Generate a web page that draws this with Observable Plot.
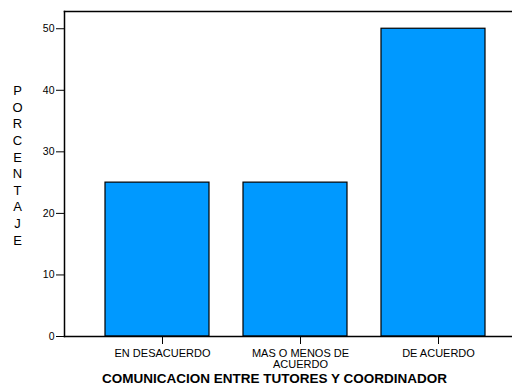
<!DOCTYPE html>
<html>
<head>
<meta charset="utf-8">
<script src="https://cdn.jsdelivr.net/npm/d3@7"></script>
<script src="https://cdn.jsdelivr.net/npm/@observablehq/plot@0.6"></script>
<style>
  html, body { margin: 0; padding: 0; background: white; }
</style>
</head>
<body>
<div id="chart"></div>
<script>
const categories = ["EN DESACUERDO", "MAS O MENOS DE\nACUERDO", "DE ACUERDO"];
const values = [25, 25, 50];
const yTicks = [0, 10, 20, 30, 40, 50];
const xTitle = "COMUNICACION ENTRE TUTORES Y COORDINADOR";
const yTitle = "PORCENTAJE";

const data = categories.map((c, i) => ({cat: c, value: values[i]}));

const chart = Plot.plot({
  width: 512,
  height: 385,
  marginTop: 11,
  marginBottom: 49,
  marginLeft: 64,
  marginRight: 0,
  style: {fontFamily: "Arial, 'Liberation Sans', sans-serif", fontSize: "11px", background: "white", color: "black"},
  x: {domain: categories, range: [88, 502], paddingInner: 0.25, paddingOuter: 0.125, label: null},
  y: {domain: [0, 52.8], label: null},
  marks: [
    Plot.barY(data, {x: "cat", y: "value", fill: "#0099ff", stroke: "black", strokeWidth: 1.2}),
    Plot.axisY({ticks: yTicks, tickSize: 8, tickPadding: 2, label: null, fontSize: 10.5}),
    Plot.axisX({tickSize: 8, tickPadding: 5, label: null, fontSize: 11, lineHeight: 0.96, textStroke: null, dx: 5}),
    Plot.frame({anchor: "left", strokeWidth: 1.5}),
    Plot.frame({anchor: "top", strokeWidth: 1.5}),
    Plot.frame({anchor: "bottom", strokeWidth: 1.5}),
    Plot.text([xTitle], {frameAnchor: "bottom", dx: -14, dy: 42, fontWeight: "bold", fontSize: 13.5, lineAnchor: "middle"}),
    Plot.text([yTitle.split("").join("\n")], {frameAnchor: "left", dx: -47, dy: -9.5, textAnchor: "middle", lineAnchor: "middle", fontSize: 13, lineHeight: 1.28})
  ]
});
document.getElementById("chart").appendChild(chart);
</script>
</body>
</html>
